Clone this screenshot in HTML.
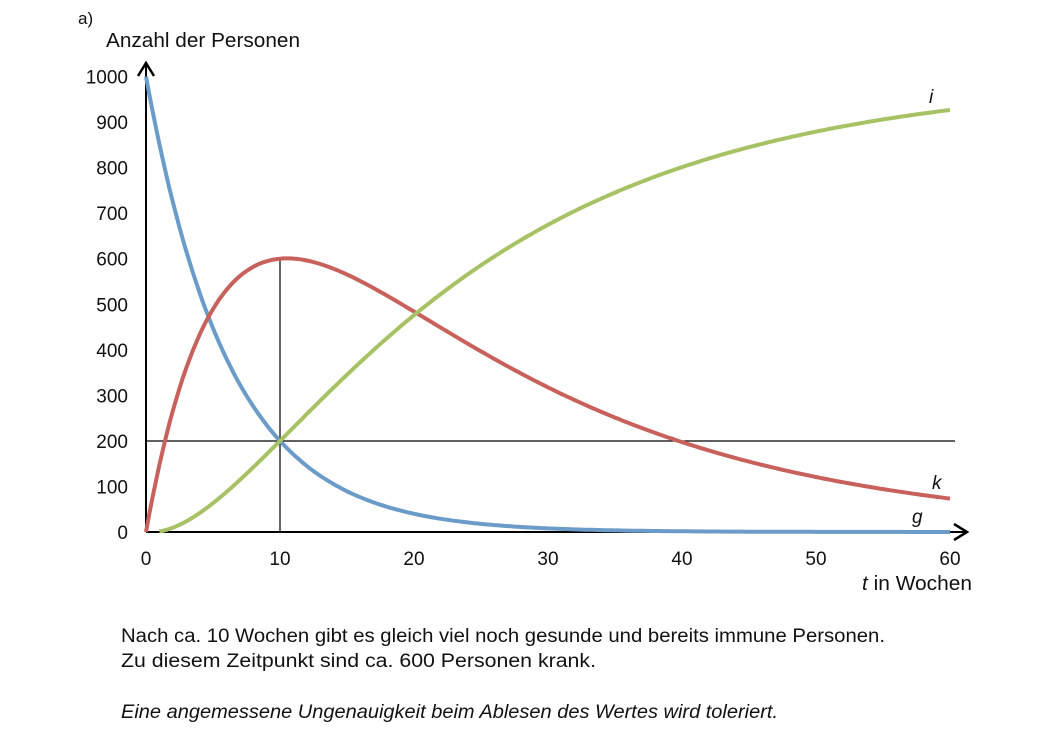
<!DOCTYPE html>
<html><head><meta charset="utf-8"><style>
body{margin:0;background:#fff;}
svg text{font-family:"Liberation Sans",sans-serif;fill:#111;}
</style></head><body>
<svg id="s" width="1040" height="734" xmlns="http://www.w3.org/2000/svg">
<text x="78" y="24" font-size="17">a)</text>
<text x="106" y="47" font-size="20" textLength="194" lengthAdjust="spacingAndGlyphs">Anzahl der Personen</text>
<g font-size="19" text-anchor="end" id="yt"></g>
<g font-size="19" text-anchor="middle" id="xt"></g>
<line x1="146" y1="532" x2="146" y2="64" stroke="#000" stroke-width="2"/>
<polyline points="138,76 146,63 154,76" fill="none" stroke="#000" stroke-width="2.5"/>
<line x1="146" y1="532" x2="966" y2="532" stroke="#000" stroke-width="2"/>
<polyline points="954,524 967,532 954,540" fill="none" stroke="#000" stroke-width="2.5"/>
<line x1="280" y1="532" x2="280" y2="258" stroke="#000" stroke-width="1.2"/>
<line x1="146" y1="441" x2="955" y2="441" stroke="#000" stroke-width="1.2"/>
<path id="pg" fill="none" stroke="#6a9bc9" stroke-width="4"/>
<path id="pk" fill="none" stroke="#c8605c" stroke-width="4"/>
<path id="pi" fill="none" stroke="#a6c265" stroke-width="4"/>
<text x="929" y="103" font-size="19" font-style="italic">i</text>
<text x="932" y="489" font-size="19" font-style="italic">k</text>
<text x="912" y="523" font-size="19" font-style="italic">g</text>
<text x="862" y="590" font-size="20" textLength="110" lengthAdjust="spacingAndGlyphs"><tspan font-style="italic">t</tspan> in Wochen</text>
<text x="121" y="642" font-size="19" textLength="764" lengthAdjust="spacingAndGlyphs">Nach ca. 10 Wochen gibt es gleich viel noch gesunde und bereits immune Personen.</text>
<text x="121" y="667" font-size="19" textLength="475" lengthAdjust="spacingAndGlyphs">Zu diesem Zeitpunkt sind ca. 600 Personen krank.</text>
<text x="121" y="718" font-size="19" font-style="italic" textLength="657" lengthAdjust="spacingAndGlyphs">Eine angemessene Ungenauigkeit beim Ablesen des Wertes wird toleriert.</text>
</svg>
<script>
var X=t=>146+t*13.4, Y=v=>532-v*0.4555;
var ns="http://www.w3.org/2000/svg";
for(var v=0;v<=1000;v+=100){var e=document.createElementNS(ns,"text");e.setAttribute("x",128);e.setAttribute("y",Y(v)+7);e.textContent=v;document.getElementById("yt").appendChild(e);}
for(var t=0;t<=60;t+=10){var e=document.createElementNS(ns,"text");e.setAttribute("x",X(t));e.setAttribute("y",565);e.textContent=t;document.getElementById("xt").appendChild(e);}
var c=Math.log(5)/10,b=0.05,A=1476;
var g=t=>1000*Math.exp(-c*t), k=t=>A*(Math.exp(-b*t)-Math.exp(-c*t)), I=t=>Math.max(0,1000-g(t)-k(t));
function p(f,s){var d="";for(var t=s;t<=60.001;t+=0.25){d+=(t==s?"M":"L")+X(t).toFixed(1)+","+Y(f(t)).toFixed(1);}return d;}
document.getElementById("pg").setAttribute("d",p(g,0));
document.getElementById("pk").setAttribute("d",p(k,0));
document.getElementById("pi").setAttribute("d",p(I,1));
</script>
</body></html>
